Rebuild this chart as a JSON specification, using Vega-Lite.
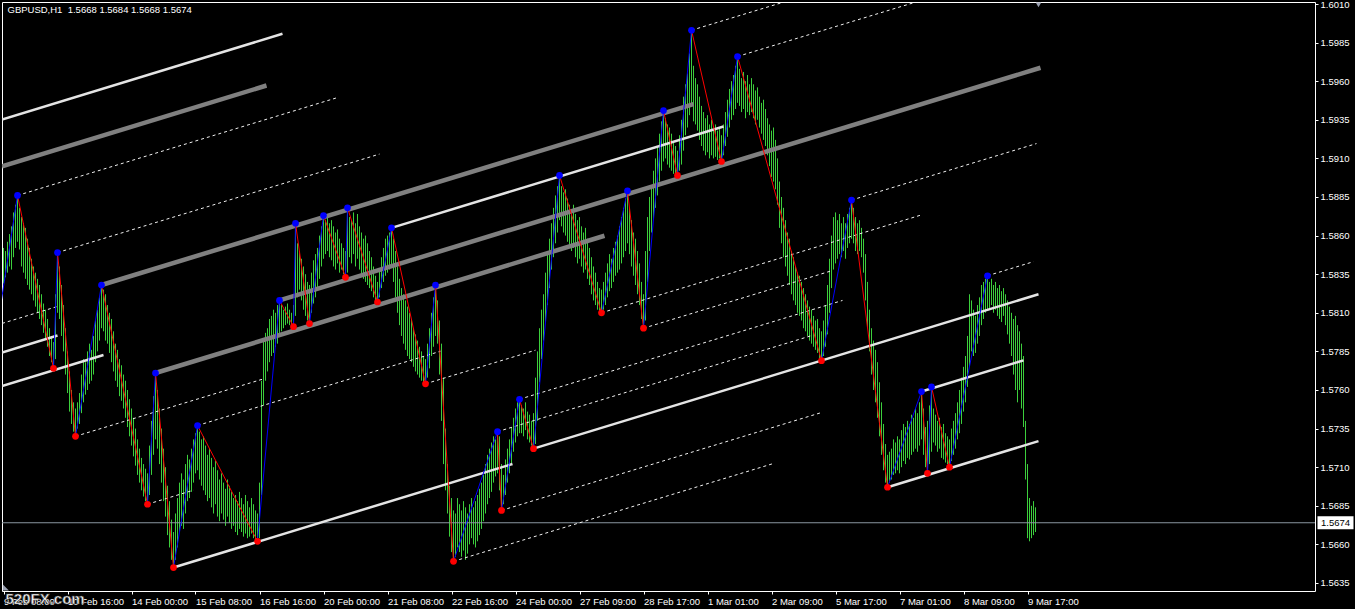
{
  "$schema": "https://vega.github.io/schema/vega-lite/v6.json",
  "width": 1313,
  "height": 589,
  "autosize": "none",
  "padding": {"left": 2, "top": 2, "right": 40, "bottom": 18},
  "background": "#000000",
  "config": {
    "view": {"stroke": "#ffffff", "strokeWidth": 1, "fill": "#000000"},
    "axis": {"domain": false, "grid": false, "labelColor": "#ffffff", "tickColor": "#ffffff", "labelFont": "Liberation Sans", "labelFontSize": 9.5, "tickSize": 3, "labelOverlap": false},
    "text": {"font": "Liberation Sans"}
  },
  "datasets": {
    "bars": [
      {"i":0,"h":1.5852,"l":1.5829},{"i":1,"h":1.5850,"l":1.5833},{"i":2,"h":1.5856,"l":1.5836},{"i":3,"h":1.5861,"l":1.5840},{"i":4,"h":1.5866,"l":1.5838},{"i":5,"h":1.5875,"l":1.5846},{"i":6,"h":1.5880,"l":1.5852},{"i":7,"h":1.5886,"l":1.5856},{"i":8,"h":1.5878,"l":1.5851},{"i":9,"h":1.5872,"l":1.5840},
      {"i":10,"h":1.5868,"l":1.5836},{"i":11,"h":1.5865,"l":1.5832},{"i":12,"h":1.5858,"l":1.5828},{"i":13,"h":1.5852,"l":1.5825},{"i":14,"h":1.5845,"l":1.5822},{"i":15,"h":1.5840,"l":1.5818},{"i":16,"h":1.5836,"l":1.5814},{"i":17,"h":1.5832,"l":1.5810},{"i":18,"h":1.5828,"l":1.5806},{"i":19,"h":1.5822,"l":1.5802},
      {"i":20,"h":1.5816,"l":1.5797},{"i":21,"h":1.5812,"l":1.5793},{"i":22,"h":1.5806,"l":1.5788},{"i":23,"h":1.5800,"l":1.5782},{"i":24,"h":1.5795,"l":1.5778},{"i":25,"h":1.5791,"l":1.5774},{"i":26,"h":1.5822,"l":1.5780},{"i":27,"h":1.5849,"l":1.5810},{"i":28,"h":1.5840,"l":1.5806},{"i":29,"h":1.5828,"l":1.5795},
      {"i":30,"h":1.5815,"l":1.5785},{"i":31,"h":1.5800,"l":1.5770},{"i":32,"h":1.5785,"l":1.5758},{"i":33,"h":1.5772,"l":1.5746},{"i":34,"h":1.5760,"l":1.5738},{"i":35,"h":1.5752,"l":1.5733},{"i":36,"h":1.5748,"l":1.5730},{"i":37,"h":1.5752,"l":1.5735},{"i":38,"h":1.5758,"l":1.5738},{"i":39,"h":1.5770,"l":1.5745},
      {"i":40,"h":1.5780,"l":1.5752},{"i":41,"h":1.5778,"l":1.5757},{"i":42,"h":1.5785,"l":1.5760},{"i":43,"h":1.5790,"l":1.5764},{"i":44,"h":1.5786,"l":1.5766},{"i":45,"h":1.5795,"l":1.5770},{"i":46,"h":1.5805,"l":1.5778},{"i":47,"h":1.5812,"l":1.5785},{"i":48,"h":1.5820,"l":1.5792},{"i":49,"h":1.5828,"l":1.5800},
      {"i":50,"h":1.5825,"l":1.5798},{"i":51,"h":1.5822,"l":1.5792},{"i":52,"h":1.5815,"l":1.5790},{"i":53,"h":1.5810,"l":1.5784},{"i":54,"h":1.5806,"l":1.5778},{"i":55,"h":1.5798,"l":1.5772},{"i":56,"h":1.5790,"l":1.5766},{"i":57,"h":1.5786,"l":1.5762},{"i":58,"h":1.5780,"l":1.5756},{"i":59,"h":1.5776,"l":1.5753},
      {"i":60,"h":1.5770,"l":1.5748},{"i":61,"h":1.5766,"l":1.5742},{"i":62,"h":1.5760,"l":1.5736},{"i":63,"h":1.5754,"l":1.5730},{"i":64,"h":1.5748,"l":1.5724},{"i":65,"h":1.5742,"l":1.5717},{"i":66,"h":1.5735,"l":1.5711},{"i":67,"h":1.5728,"l":1.5705},{"i":68,"h":1.5722,"l":1.5700},{"i":69,"h":1.5716,"l":1.5695},
      {"i":70,"h":1.5712,"l":1.5691},{"i":71,"h":1.5709,"l":1.5688},{"i":72,"h":1.5706,"l":1.5686},{"i":73,"h":1.5724,"l":1.5692},{"i":74,"h":1.5740,"l":1.5705},{"i":75,"h":1.5756,"l":1.5718},{"i":76,"h":1.5771,"l":1.5728},{"i":77,"h":1.5760,"l":1.5722},{"i":78,"h":1.5748,"l":1.5712},{"i":79,"h":1.5735,"l":1.5700},
      {"i":80,"h":1.5722,"l":1.5688},{"i":81,"h":1.5710,"l":1.5678},{"i":82,"h":1.5698,"l":1.5666},{"i":83,"h":1.5688,"l":1.5658},{"i":84,"h":1.5676,"l":1.5650},{"i":85,"h":1.5668,"l":1.5645},{"i":86,"h":1.5680,"l":1.5650},{"i":87,"h":1.5690,"l":1.5658},{"i":88,"h":1.5700,"l":1.5668},{"i":89,"h":1.5706,"l":1.5672},
      {"i":90,"h":1.5702,"l":1.5670},{"i":91,"h":1.5712,"l":1.5680},{"i":92,"h":1.5718,"l":1.5688},{"i":93,"h":1.5715,"l":1.5690},{"i":94,"h":1.5722,"l":1.5694},{"i":95,"h":1.5728,"l":1.5700},{"i":96,"h":1.5732,"l":1.5706},{"i":97,"h":1.5737,"l":1.5708},{"i":98,"h":1.5733,"l":1.5702},{"i":99,"h":1.5728,"l":1.5698},
      {"i":100,"h":1.5730,"l":1.5695},{"i":101,"h":1.5724,"l":1.5692},{"i":102,"h":1.5718,"l":1.5688},{"i":103,"h":1.5722,"l":1.5690},{"i":104,"h":1.5716,"l":1.5684},{"i":105,"h":1.5710,"l":1.5680},{"i":106,"h":1.5714,"l":1.5686},{"i":107,"h":1.5708,"l":1.5678},{"i":108,"h":1.5702,"l":1.5675},{"i":109,"h":1.5706,"l":1.5680},
      {"i":110,"h":1.5700,"l":1.5676},{"i":111,"h":1.5696,"l":1.5672},{"i":112,"h":1.5702,"l":1.5678},{"i":113,"h":1.5698,"l":1.5674},{"i":114,"h":1.5694,"l":1.5670},{"i":115,"h":1.5690,"l":1.5672},{"i":116,"h":1.5692,"l":1.5668},{"i":117,"h":1.5688,"l":1.5666},{"i":118,"h":1.5694,"l":1.5670},{"i":119,"h":1.5690,"l":1.5668},
      {"i":120,"h":1.5686,"l":1.5665},{"i":121,"h":1.5692,"l":1.5667},{"i":122,"h":1.5688,"l":1.5664},{"i":123,"h":1.5684,"l":1.5665},{"i":124,"h":1.5690,"l":1.5667},{"i":125,"h":1.5686,"l":1.5664},{"i":126,"h":1.5682,"l":1.5663},{"i":127,"h":1.5680,"l":1.5662},{"i":128,"h":1.5700,"l":1.5664},{"i":129,"h":1.5766,"l":1.5692},
      {"i":130,"h":1.5792,"l":1.5750},{"i":131,"h":1.5797,"l":1.5766},{"i":132,"h":1.5800,"l":1.5772},{"i":133,"h":1.5806,"l":1.5778},{"i":134,"h":1.5808,"l":1.5782},{"i":135,"h":1.5812,"l":1.5784},{"i":136,"h":1.5810,"l":1.5788},{"i":137,"h":1.5815,"l":1.5790},{"i":138,"h":1.5818,"l":1.5795},{"i":139,"h":1.5815,"l":1.5798},
      {"i":140,"h":1.5812,"l":1.5800},{"i":141,"h":1.5814,"l":1.5802},{"i":142,"h":1.5816,"l":1.5803},{"i":143,"h":1.5812,"l":1.5802},{"i":144,"h":1.5810,"l":1.5802},{"i":145,"h":1.5815,"l":1.5801},{"i":146,"h":1.5868,"l":1.5808},{"i":147,"h":1.5855,"l":1.5820},{"i":148,"h":1.5850,"l":1.5825},{"i":149,"h":1.5845,"l":1.5818},
      {"i":150,"h":1.5840,"l":1.5812},{"i":151,"h":1.5835,"l":1.5808},{"i":152,"h":1.5830,"l":1.5805},{"i":153,"h":1.5828,"l":1.5803},{"i":154,"h":1.5836,"l":1.5810},{"i":155,"h":1.5844,"l":1.5816},{"i":156,"h":1.5848,"l":1.5820},{"i":157,"h":1.5852,"l":1.5826},{"i":158,"h":1.5860,"l":1.5832},{"i":159,"h":1.5866,"l":1.5840},
      {"i":160,"h":1.5873,"l":1.5845},{"i":161,"h":1.5870,"l":1.5848},{"i":162,"h":1.5872,"l":1.5850},{"i":163,"h":1.5868,"l":1.5846},{"i":164,"h":1.5870,"l":1.5844},{"i":165,"h":1.5866,"l":1.5840},{"i":166,"h":1.5862,"l":1.5838},{"i":167,"h":1.5864,"l":1.5842},{"i":168,"h":1.5858,"l":1.5836},{"i":169,"h":1.5855,"l":1.5838},
      {"i":170,"h":1.5852,"l":1.5835},{"i":171,"h":1.5850,"l":1.5833},{"i":172,"h":1.5878,"l":1.5836},{"i":173,"h":1.5872,"l":1.5846},{"i":174,"h":1.5870,"l":1.5842},{"i":175,"h":1.5875,"l":1.5848},{"i":176,"h":1.5868,"l":1.5840},{"i":177,"h":1.5874,"l":1.5845},{"i":178,"h":1.5866,"l":1.5838},{"i":179,"h":1.5862,"l":1.5835},
      {"i":180,"h":1.5858,"l":1.5832},{"i":181,"h":1.5860,"l":1.5830},{"i":182,"h":1.5855,"l":1.5828},{"i":183,"h":1.5850,"l":1.5826},{"i":184,"h":1.5846,"l":1.5824},{"i":185,"h":1.5840,"l":1.5820},{"i":186,"h":1.5834,"l":1.5818},{"i":187,"h":1.5830,"l":1.5817},{"i":188,"h":1.5838,"l":1.5820},{"i":189,"h":1.5846,"l":1.5826},
      {"i":190,"h":1.5852,"l":1.5830},{"i":191,"h":1.5858,"l":1.5834},{"i":192,"h":1.5860,"l":1.5836},{"i":193,"h":1.5862,"l":1.5838},{"i":194,"h":1.5865,"l":1.5840},{"i":195,"h":1.5858,"l":1.5830},{"i":196,"h":1.5850,"l":1.5820},{"i":197,"h":1.5840,"l":1.5810},{"i":198,"h":1.5832,"l":1.5802},{"i":199,"h":1.5826,"l":1.5795},
      {"i":200,"h":1.5822,"l":1.5790},{"i":201,"h":1.5818,"l":1.5786},{"i":202,"h":1.5814,"l":1.5782},{"i":203,"h":1.5810,"l":1.5780},{"i":204,"h":1.5806,"l":1.5778},{"i":205,"h":1.5800,"l":1.5775},{"i":206,"h":1.5796,"l":1.5772},{"i":207,"h":1.5792,"l":1.5770},{"i":208,"h":1.5788,"l":1.5768},{"i":209,"h":1.5785,"l":1.5766},
      {"i":210,"h":1.5782,"l":1.5765},{"i":211,"h":1.5780,"l":1.5764},{"i":212,"h":1.5790,"l":1.5768},{"i":213,"h":1.5800,"l":1.5774},{"i":214,"h":1.5810,"l":1.5782},{"i":215,"h":1.5820,"l":1.5788},{"i":216,"h":1.5828,"l":1.5795},{"i":217,"h":1.5818,"l":1.5790},{"i":218,"h":1.5805,"l":1.5770},{"i":219,"h":1.5790,"l":1.5740},
      {"i":220,"h":1.5768,"l":1.5712},{"i":221,"h":1.5735,"l":1.5695},{"i":222,"h":1.5712,"l":1.5680},{"i":223,"h":1.5698,"l":1.5665},{"i":224,"h":1.5690,"l":1.5655},{"i":225,"h":1.5682,"l":1.5649},{"i":226,"h":1.5680,"l":1.5652},{"i":227,"h":1.5690,"l":1.5658},{"i":228,"h":1.5686,"l":1.5655},{"i":229,"h":1.5682,"l":1.5652},
      {"i":230,"h":1.5688,"l":1.5656},{"i":231,"h":1.5684,"l":1.5650},{"i":232,"h":1.5680,"l":1.5654},{"i":233,"h":1.5686,"l":1.5660},{"i":234,"h":1.5690,"l":1.5664},{"i":235,"h":1.5684,"l":1.5660},{"i":236,"h":1.5688,"l":1.5658},{"i":237,"h":1.5692,"l":1.5662},{"i":238,"h":1.5696,"l":1.5666},{"i":239,"h":1.5700,"l":1.5670},
      {"i":240,"h":1.5705,"l":1.5675},{"i":241,"h":1.5712,"l":1.5680},{"i":242,"h":1.5718,"l":1.5686},{"i":243,"h":1.5722,"l":1.5690},{"i":244,"h":1.5726,"l":1.5694},{"i":245,"h":1.5730,"l":1.5700},{"i":246,"h":1.5728,"l":1.5704},{"i":247,"h":1.5733,"l":1.5706},{"i":248,"h":1.5730,"l":1.5695},{"i":249,"h":1.5712,"l":1.5682},
      {"i":250,"h":1.5705,"l":1.5686},{"i":251,"h":1.5715,"l":1.5692},{"i":252,"h":1.5722,"l":1.5700},{"i":253,"h":1.5728,"l":1.5706},{"i":254,"h":1.5736,"l":1.5712},{"i":255,"h":1.5742,"l":1.5720},{"i":256,"h":1.5748,"l":1.5726},{"i":257,"h":1.5752,"l":1.5730},{"i":258,"h":1.5754,"l":1.5732},{"i":259,"h":1.5750,"l":1.5732},
      {"i":260,"h":1.5748,"l":1.5730},{"i":261,"h":1.5752,"l":1.5734},{"i":262,"h":1.5746,"l":1.5728},{"i":263,"h":1.5744,"l":1.5726},{"i":264,"h":1.5740,"l":1.5724},{"i":265,"h":1.5745,"l":1.5722},{"i":266,"h":1.5768,"l":1.5725},{"i":267,"h":1.5785,"l":1.5740},{"i":268,"h":1.5800,"l":1.5765},{"i":269,"h":1.5812,"l":1.5780},
      {"i":270,"h":1.5822,"l":1.5792},{"i":271,"h":1.5836,"l":1.5804},{"i":272,"h":1.5848,"l":1.5815},{"i":273,"h":1.5858,"l":1.5826},{"i":274,"h":1.5868,"l":1.5838},{"i":275,"h":1.5878,"l":1.5846},{"i":276,"h":1.5886,"l":1.5855},{"i":277,"h":1.5892,"l":1.5862},{"i":278,"h":1.5899,"l":1.5870},{"i":279,"h":1.5892,"l":1.5866},
      {"i":280,"h":1.5888,"l":1.5862},{"i":281,"h":1.5890,"l":1.5860},{"i":282,"h":1.5884,"l":1.5856},{"i":283,"h":1.5880,"l":1.5852},{"i":284,"h":1.5876,"l":1.5850},{"i":285,"h":1.5880,"l":1.5852},{"i":286,"h":1.5874,"l":1.5846},{"i":287,"h":1.5870,"l":1.5842},{"i":288,"h":1.5872,"l":1.5845},{"i":289,"h":1.5866,"l":1.5840},
      {"i":290,"h":1.5862,"l":1.5836},{"i":291,"h":1.5865,"l":1.5838},{"i":292,"h":1.5858,"l":1.5832},{"i":293,"h":1.5852,"l":1.5828},{"i":294,"h":1.5846,"l":1.5822},{"i":295,"h":1.5840,"l":1.5818},{"i":296,"h":1.5836,"l":1.5815},{"i":297,"h":1.5830,"l":1.5812},{"i":298,"h":1.5826,"l":1.5811},{"i":299,"h":1.5825,"l":1.5810},
      {"i":300,"h":1.5830,"l":1.5812},{"i":301,"h":1.5836,"l":1.5815},{"i":302,"h":1.5842,"l":1.5820},{"i":303,"h":1.5848,"l":1.5824},{"i":304,"h":1.5845,"l":1.5826},{"i":305,"h":1.5852,"l":1.5830},{"i":306,"h":1.5856,"l":1.5834},{"i":307,"h":1.5860,"l":1.5836},{"i":308,"h":1.5866,"l":1.5838},{"i":309,"h":1.5872,"l":1.5842},
      {"i":310,"h":1.5878,"l":1.5846},{"i":311,"h":1.5884,"l":1.5850},{"i":312,"h":1.5889,"l":1.5855},{"i":313,"h":1.5878,"l":1.5848},{"i":314,"h":1.5870,"l":1.5840},{"i":315,"h":1.5862,"l":1.5834},{"i":316,"h":1.5858,"l":1.5828},{"i":317,"h":1.5850,"l":1.5822},{"i":318,"h":1.5842,"l":1.5815},{"i":319,"h":1.5830,"l":1.5806},
      {"i":320,"h":1.5822,"l":1.5800},{"i":321,"h":1.5850,"l":1.5805},{"i":322,"h":1.5872,"l":1.5830},{"i":323,"h":1.5885,"l":1.5850},{"i":324,"h":1.5892,"l":1.5862},{"i":325,"h":1.5902,"l":1.5870},{"i":326,"h":1.5910,"l":1.5878},{"i":327,"h":1.5918,"l":1.5886},{"i":328,"h":1.5926,"l":1.5895},{"i":329,"h":1.5934,"l":1.5902},
      {"i":330,"h":1.5941,"l":1.5908},{"i":331,"h":1.5936,"l":1.5910},{"i":332,"h":1.5932,"l":1.5906},{"i":333,"h":1.5930,"l":1.5904},{"i":334,"h":1.5926,"l":1.5902},{"i":335,"h":1.5920,"l":1.5900},{"i":336,"h":1.5918,"l":1.5899},{"i":337,"h":1.5915,"l":1.5899},{"i":338,"h":1.5925,"l":1.5902},{"i":339,"h":1.5935,"l":1.5906},
      {"i":340,"h":1.5950,"l":1.5915},{"i":341,"h":1.5958,"l":1.5925},{"i":342,"h":1.5965,"l":1.5930},{"i":343,"h":1.5978,"l":1.5938},{"i":344,"h":1.5993,"l":1.5944},{"i":345,"h":1.5970,"l":1.5934},{"i":346,"h":1.5962,"l":1.5932},{"i":347,"h":1.5958,"l":1.5928},{"i":348,"h":1.5950,"l":1.5922},{"i":349,"h":1.5944,"l":1.5918},
      {"i":350,"h":1.5940,"l":1.5915},{"i":351,"h":1.5936,"l":1.5912},{"i":352,"h":1.5938,"l":1.5914},{"i":353,"h":1.5932,"l":1.5910},{"i":354,"h":1.5935,"l":1.5912},{"i":355,"h":1.5930,"l":1.5910},{"i":356,"h":1.5932,"l":1.5911},{"i":357,"h":1.5928,"l":1.5909},{"i":358,"h":1.5930,"l":1.5910},{"i":359,"h":1.5925,"l":1.5908},
      {"i":360,"h":1.5932,"l":1.5912},{"i":361,"h":1.5940,"l":1.5918},{"i":362,"h":1.5948,"l":1.5924},{"i":363,"h":1.5955,"l":1.5930},{"i":364,"h":1.5960,"l":1.5935},{"i":365,"h":1.5964,"l":1.5938},{"i":366,"h":1.5970,"l":1.5942},{"i":367,"h":1.5976,"l":1.5946},{"i":368,"h":1.5968,"l":1.5944},{"i":369,"h":1.5962,"l":1.5940},
      {"i":370,"h":1.5966,"l":1.5942},{"i":371,"h":1.5960,"l":1.5936},{"i":372,"h":1.5964,"l":1.5940},{"i":373,"h":1.5958,"l":1.5938},{"i":374,"h":1.5962,"l":1.5940},{"i":375,"h":1.5958,"l":1.5936},{"i":376,"h":1.5954,"l":1.5932},{"i":377,"h":1.5956,"l":1.5935},{"i":378,"h":1.5950,"l":1.5930},{"i":379,"h":1.5946,"l":1.5926},
      {"i":380,"h":1.5948,"l":1.5922},{"i":381,"h":1.5942,"l":1.5918},{"i":382,"h":1.5936,"l":1.5912},{"i":383,"h":1.5932,"l":1.5905},{"i":384,"h":1.5928,"l":1.5898},{"i":385,"h":1.5930,"l":1.5895},{"i":386,"h":1.5922,"l":1.5890},{"i":387,"h":1.5910,"l":1.5880},{"i":388,"h":1.5895,"l":1.5865},{"i":389,"h":1.5885,"l":1.5855},
      {"i":390,"h":1.5878,"l":1.5846},{"i":391,"h":1.5870,"l":1.5840},{"i":392,"h":1.5862,"l":1.5834},{"i":393,"h":1.5858,"l":1.5828},{"i":394,"h":1.5850,"l":1.5822},{"i":395,"h":1.5846,"l":1.5818},{"i":396,"h":1.5840,"l":1.5815},{"i":397,"h":1.5836,"l":1.5810},{"i":398,"h":1.5834,"l":1.5808},{"i":399,"h":1.5830,"l":1.5805},
      {"i":400,"h":1.5826,"l":1.5800},{"i":401,"h":1.5822,"l":1.5798},{"i":402,"h":1.5818,"l":1.5795},{"i":403,"h":1.5814,"l":1.5792},{"i":404,"h":1.5812,"l":1.5790},{"i":405,"h":1.5808,"l":1.5788},{"i":406,"h":1.5805,"l":1.5786},{"i":407,"h":1.5806,"l":1.5784},{"i":408,"h":1.5800,"l":1.5780},{"i":409,"h":1.5798,"l":1.5779},
      {"i":410,"h":1.5805,"l":1.5782},{"i":411,"h":1.5815,"l":1.5788},{"i":412,"h":1.5828,"l":1.5796},{"i":413,"h":1.5845,"l":1.5810},{"i":414,"h":1.5860,"l":1.5826},{"i":415,"h":1.5872,"l":1.5838},{"i":416,"h":1.5875,"l":1.5842},{"i":417,"h":1.5870,"l":1.5845},{"i":418,"h":1.5874,"l":1.5848},{"i":419,"h":1.5868,"l":1.5846},
      {"i":420,"h":1.5872,"l":1.5850},{"i":421,"h":1.5868,"l":1.5845},{"i":422,"h":1.5874,"l":1.5852},{"i":423,"h":1.5878,"l":1.5855},{"i":424,"h":1.5883,"l":1.5858},{"i":425,"h":1.5878,"l":1.5855},{"i":426,"h":1.5872,"l":1.5850},{"i":427,"h":1.5868,"l":1.5848},{"i":428,"h":1.5870,"l":1.5850},{"i":429,"h":1.5865,"l":1.5846},
      {"i":430,"h":1.5858,"l":1.5836},{"i":431,"h":1.5848,"l":1.5818},{"i":432,"h":1.5830,"l":1.5800},{"i":433,"h":1.5812,"l":1.5785},{"i":434,"h":1.5800,"l":1.5770},{"i":435,"h":1.5792,"l":1.5760},{"i":436,"h":1.5786,"l":1.5752},{"i":437,"h":1.5778,"l":1.5742},{"i":438,"h":1.5765,"l":1.5730},{"i":439,"h":1.5752,"l":1.5718},
      {"i":440,"h":1.5738,"l":1.5708},{"i":441,"h":1.5725,"l":1.5700},{"i":442,"h":1.5718,"l":1.5697},{"i":443,"h":1.5720,"l":1.5700},{"i":444,"h":1.5722,"l":1.5702},{"i":445,"h":1.5728,"l":1.5705},{"i":446,"h":1.5726,"l":1.5706},{"i":447,"h":1.5730,"l":1.5708},{"i":448,"h":1.5728,"l":1.5706},{"i":449,"h":1.5734,"l":1.5710},
      {"i":450,"h":1.5738,"l":1.5714},{"i":451,"h":1.5736,"l":1.5712},{"i":452,"h":1.5740,"l":1.5716},{"i":453,"h":1.5738,"l":1.5715},{"i":454,"h":1.5744,"l":1.5718},{"i":455,"h":1.5742,"l":1.5720},{"i":456,"h":1.5748,"l":1.5722},{"i":457,"h":1.5745,"l":1.5720},{"i":458,"h":1.5752,"l":1.5724},{"i":459,"h":1.5759,"l":1.5728},
      {"i":460,"h":1.5748,"l":1.5718},{"i":461,"h":1.5736,"l":1.5710},{"i":462,"h":1.5740,"l":1.5706},{"i":463,"h":1.5750,"l":1.5712},{"i":464,"h":1.5762,"l":1.5720},{"i":465,"h":1.5748,"l":1.5726},{"i":466,"h":1.5744,"l":1.5724},{"i":467,"h":1.5740,"l":1.5720},{"i":468,"h":1.5742,"l":1.5722},{"i":469,"h":1.5736,"l":1.5716},
      {"i":470,"h":1.5738,"l":1.5715},{"i":471,"h":1.5732,"l":1.5713},{"i":472,"h":1.5730,"l":1.5712},{"i":473,"h":1.5728,"l":1.5710},{"i":474,"h":1.5735,"l":1.5714},{"i":475,"h":1.5740,"l":1.5718},{"i":476,"h":1.5745,"l":1.5722},{"i":477,"h":1.5752,"l":1.5728},{"i":478,"h":1.5760,"l":1.5732},{"i":479,"h":1.5768,"l":1.5738},
      {"i":480,"h":1.5775,"l":1.5746},{"i":481,"h":1.5782,"l":1.5752},{"i":482,"h":1.5795,"l":1.5762},{"i":483,"h":1.5822,"l":1.5775},{"i":484,"h":1.5818,"l":1.5785},{"i":485,"h":1.5812,"l":1.5782},{"i":486,"h":1.5808,"l":1.5784},{"i":487,"h":1.5815,"l":1.5790},{"i":488,"h":1.5820,"l":1.5795},{"i":489,"h":1.5828,"l":1.5802},
      {"i":490,"h":1.5830,"l":1.5806},{"i":491,"h":1.5832,"l":1.5810},{"i":492,"h":1.5834,"l":1.5812},{"i":493,"h":1.5830,"l":1.5812},{"i":494,"h":1.5832,"l":1.5815},{"i":495,"h":1.5828,"l":1.5810},{"i":496,"h":1.5830,"l":1.5812},{"i":497,"h":1.5826,"l":1.5808},{"i":498,"h":1.5828,"l":1.5806},{"i":499,"h":1.5824,"l":1.5804},
      {"i":500,"h":1.5826,"l":1.5808},{"i":501,"h":1.5822,"l":1.5802},{"i":502,"h":1.5818,"l":1.5796},{"i":503,"h":1.5814,"l":1.5790},{"i":504,"h":1.5810,"l":1.5782},{"i":505,"h":1.5806,"l":1.5770},{"i":506,"h":1.5808,"l":1.5760},{"i":507,"h":1.5802,"l":1.5752},{"i":508,"h":1.5798,"l":1.5760},{"i":509,"h":1.5790,"l":1.5748},
      {"i":510,"h":1.5782,"l":1.5736},{"i":511,"h":1.5740,"l":1.5702},{"i":512,"h":1.5712,"l":1.5664},{"i":513,"h":1.5690,"l":1.5662},{"i":514,"h":1.5685,"l":1.5664},{"i":515,"h":1.5688,"l":1.5666},{"i":516,"h":1.5684,"l":1.5668}
    ],
    "pivots": [
      {"i":-2,"p":1.5810,"t":"L"},{"i":7,"p":1.5886,"t":"H"},{"i":25,"p":1.5774,"t":"L"},{"i":27,"p":1.5849,"t":"H"},{"i":36,"p":1.5730,"t":"L"},{"i":49,"p":1.5828,"t":"H"},{"i":72,"p":1.5686,"t":"L"},{"i":76,"p":1.5771,"t":"H"},{"i":85,"p":1.5645,"t":"L"},{"i":97,"p":1.5737,"t":"H"},
      {"i":127,"p":1.5662,"t":"L"},{"i":138,"p":1.5818,"t":"H"},{"i":145,"p":1.5801,"t":"L"},{"i":146,"p":1.5868,"t":"H"},{"i":153,"p":1.5803,"t":"L"},{"i":160,"p":1.5873,"t":"H"},{"i":171,"p":1.5833,"t":"L"},{"i":172,"p":1.5878,"t":"H"},{"i":187,"p":1.5817,"t":"L"},{"i":194,"p":1.5865,"t":"H"},
      {"i":211,"p":1.5764,"t":"L"},{"i":216,"p":1.5828,"t":"H"},{"i":225,"p":1.5649,"t":"L"},{"i":247,"p":1.5733,"t":"H"},{"i":249,"p":1.5682,"t":"L"},{"i":258,"p":1.5754,"t":"H"},{"i":265,"p":1.5722,"t":"L"},{"i":278,"p":1.5899,"t":"H"},{"i":299,"p":1.5810,"t":"L"},{"i":312,"p":1.5889,"t":"H"},
      {"i":320,"p":1.5800,"t":"L"},{"i":330,"p":1.5941,"t":"H"},{"i":337,"p":1.5899,"t":"L"},{"i":344,"p":1.5993,"t":"H"},{"i":359,"p":1.5908,"t":"L"},{"i":367,"p":1.5976,"t":"H"},{"i":409,"p":1.5779,"t":"L"},{"i":424,"p":1.5883,"t":"H"},{"i":442,"p":1.5697,"t":"L"},{"i":459,"p":1.5759,"t":"H"},
      {"i":462,"p":1.5706,"t":"L"},{"i":464,"p":1.5762,"t":"H"},{"i":473,"p":1.5710,"t":"L"},{"i":492,"p":1.5834,"t":"H"}
    ],
    "channels": [
      {"line":"G1","kind":"thick","i":-0.75,"p":1.59048},{"line":"G1","kind":"thick","i":131.5,"p":1.59572},
      {"line":"G2a","kind":"thick","i":49,"p":1.5828},{"line":"G2a","kind":"thick","i":345,"p":1.59452},
      {"line":"G2b","kind":"thick","i":138,"p":1.5818},{"line":"G2b","kind":"thick","i":518.5,"p":1.59687},
      {"line":"G3","kind":"thick","i":76,"p":1.5771},{"line":"G3","kind":"thick","i":300.5,"p":1.58599},
      {"line":"W1","kind":"solid","i":-0.75,"p":1.59352},{"line":"W1","kind":"solid","i":139.5,"p":1.59907},
      {"line":"W2","kind":"solid","i":-0.75,"p":1.57843},{"line":"W2","kind":"solid","i":27,"p":1.57953},
      {"line":"W3","kind":"solid","i":-0.75,"p":1.57626},{"line":"W3","kind":"solid","i":50,"p":1.57827},
      {"line":"W4","kind":"solid","i":85,"p":1.5645},{"line":"W4","kind":"solid","i":254.5,"p":1.57121},
      {"line":"W5","kind":"solid","i":265,"p":1.5722},{"line":"W5","kind":"solid","i":517.5,"p":1.5822},
      {"line":"W6","kind":"solid","i":194,"p":1.5865},{"line":"W6","kind":"solid","i":360,"p":1.59307},
      {"line":"W7","kind":"solid","i":442,"p":1.5697},{"line":"W7","kind":"solid","i":517.5,"p":1.57269},
      {"line":"W8","kind":"solid","i":459,"p":1.5759},{"line":"W8","kind":"solid","i":510,"p":1.57792},
      {"line":"D1","kind":"dash","i":7,"p":1.5886},{"line":"D1","kind":"dash","i":167,"p":1.59494},
      {"line":"D2","kind":"dash","i":27,"p":1.5849},{"line":"D2","kind":"dash","i":188,"p":1.59128},
      {"line":"D3","kind":"dash","i":-0.75,"p":1.58031},{"line":"D3","kind":"dash","i":27,"p":1.58141},
      {"line":"D4","kind":"dash","i":36,"p":1.5730},{"line":"D4","kind":"dash","i":129.5,"p":1.5767},
      {"line":"D5","kind":"dash","i":72,"p":1.5686},{"line":"D5","kind":"dash","i":95,"p":1.56951},
      {"line":"D6","kind":"dash","i":97,"p":1.5737},{"line":"D6","kind":"dash","i":218.5,"p":1.57851},
      {"line":"D7","kind":"dash","i":211,"p":1.5764},{"line":"D7","kind":"dash","i":266,"p":1.57858},
      {"line":"D8","kind":"dash","i":225,"p":1.5649},{"line":"D8","kind":"dash","i":385,"p":1.57124},
      {"line":"D9","kind":"dash","i":247,"p":1.5733},{"line":"D9","kind":"dash","i":404.5,"p":1.57954},
      {"line":"D10","kind":"dash","i":249,"p":1.5682},{"line":"D10","kind":"dash","i":408.5,"p":1.57452},
      {"line":"D11","kind":"dash","i":258,"p":1.5754},{"line":"D11","kind":"dash","i":419.5,"p":1.5818},
      {"line":"D12","kind":"dash","i":299,"p":1.5810},{"line":"D12","kind":"dash","i":459,"p":1.58734},
      {"line":"D13","kind":"dash","i":320,"p":1.5800},{"line":"D13","kind":"dash","i":413.5,"p":1.5837},
      {"line":"D14","kind":"dash","i":344,"p":1.5993},{"line":"D14","kind":"dash","i":390,"p":1.60112},
      {"line":"D15","kind":"dash","i":367,"p":1.5976},{"line":"D15","kind":"dash","i":456,"p":1.60112},
      {"line":"D16","kind":"dash","i":424,"p":1.5883},{"line":"D16","kind":"dash","i":516.5,"p":1.59196},
      {"line":"D17","kind":"dash","i":492,"p":1.5834},{"line":"D17","kind":"dash","i":515,"p":1.58431}
    ]
  },
  "layer": [
    {
      "data": {"name": "bars"},
      "mark": {"type": "rule", "color": "#3ccf3c", "strokeWidth": 1},
      "encoding": {
        "x": {"field": "i", "type": "quantitative", "scale": {"domain": [-0.75, 655.75], "nice": false, "zero": false},
          "axis": {"orient": "bottom", "title": null, "values": [0,32,64,96,128,160,192,224,256,288,320,352,384,416,448,480,512], "tickCount": 60, "labelAlign": "left", "labelBaseline": "top", "labelPadding": 2, "labelOverlap": false, "labelFlush": false, "labelBound": false, "labelColor": "#ffffff", "tickColor": "#ffffff", "tickSize": 3, "domain": false, "grid": false, "labelFont": "Liberation Sans", "labelFontSize": 9.5,
            "labelExpr": "['9 Feb 08:00','10 Feb 16:00','14 Feb 00:00','15 Feb 08:00','16 Feb 16:00','20 Feb 00:00','21 Feb 08:00','22 Feb 16:00','24 Feb 00:00','27 Feb 09:00','28 Feb 17:00','1 Mar 01:00','2 Mar 09:00','5 Mar 17:00','7 Mar 01:00','8 Mar 09:00','9 Mar 17:00'][round(datum.value/32)]"}},
        "y": {"field": "l", "type": "quantitative", "scale": {"domain": [1.56298, 1.60113], "nice": false, "zero": false},
          "axis": {"orient": "right", "title": null, "values": [1.5635,1.566,1.5685,1.571,1.5735,1.576,1.5785,1.581,1.5835,1.586,1.5885,1.591,1.5935,1.596,1.5985,1.601], "tickCount": 40, "format": ".4f", "labelPadding": 2, "labelOverlap": false, "labelFlush": false, "labelBound": false, "labelColor": "#ffffff", "tickColor": "#ffffff", "tickSize": 3, "domain": false, "grid": false, "labelFont": "Liberation Sans", "labelFontSize": 9.5}},
        "y2": {"field": "h"}
      }
    },
    {
      "data": {"values": [{}]},
      "mark": {"type": "rule", "color": "#8a96a0", "strokeWidth": 1},
      "encoding": {"y": {"datum": 1.5674, "type": "quantitative", "scale": {"domain": [1.56298, 1.60113], "nice": false, "zero": false}}}
    },
    {
      "data": {"name": "channels"},
      "transform": [{"filter": "datum.kind === 'thick'"}],
      "mark": {"type": "line", "color": "#808080", "strokeWidth": 4.5, "clip": true},
      "encoding": {
        "x": {"field": "i", "type": "quantitative", "scale": {"domain": [-0.75, 655.75], "nice": false, "zero": false}},
        "y": {"field": "p", "type": "quantitative", "scale": {"domain": [1.56298, 1.60113], "nice": false, "zero": false}},
        "detail": {"field": "line"}
      }
    },
    {
      "data": {"name": "channels"},
      "transform": [{"filter": "datum.kind === 'solid'"}],
      "mark": {"type": "line", "color": "#e4e4e4", "strokeWidth": 2.5, "clip": true},
      "encoding": {
        "x": {"field": "i", "type": "quantitative", "scale": {"domain": [-0.75, 655.75], "nice": false, "zero": false}},
        "y": {"field": "p", "type": "quantitative", "scale": {"domain": [1.56298, 1.60113], "nice": false, "zero": false}},
        "detail": {"field": "line"}
      }
    },
    {
      "data": {"name": "channels"},
      "transform": [{"filter": "datum.kind === 'dash'"}],
      "mark": {"type": "line", "color": "#f2f2f2", "strokeWidth": 1, "strokeDash": [3, 3], "clip": true},
      "encoding": {
        "x": {"field": "i", "type": "quantitative", "scale": {"domain": [-0.75, 655.75], "nice": false, "zero": false}},
        "y": {"field": "p", "type": "quantitative", "scale": {"domain": [1.56298, 1.60113], "nice": false, "zero": false}},
        "detail": {"field": "line"}
      }
    },
    {
      "data": {"name": "pivots"},
      "transform": [
        {"window": [{"op": "lead", "field": "i", "as": "i2"}, {"op": "lead", "field": "p", "as": "p2"}], "sort": [{"field": "i"}]},
        {"filter": "datum.i2 != null"}
      ],
      "mark": {"type": "rule", "strokeWidth": 1, "clip": true},
      "encoding": {
        "x": {"field": "i", "type": "quantitative", "scale": {"domain": [-0.75, 655.75], "nice": false, "zero": false}},
        "y": {"field": "p", "type": "quantitative", "scale": {"domain": [1.56298, 1.60113], "nice": false, "zero": false}},
        "x2": {"field": "i2"},
        "y2": {"field": "p2"},
        "stroke": {"field": "t", "type": "nominal", "scale": {"domain": ["H", "L"], "range": ["#ff0000", "#0000ff"]}, "legend": null}
      }
    },
    {
      "data": {"name": "pivots"},
      "transform": [{"filter": "datum.i >= 0"}],
      "mark": {"type": "point", "shape": "circle", "filled": true, "size": 45, "opacity": 1, "strokeWidth": 0},
      "encoding": {
        "x": {"field": "i", "type": "quantitative", "scale": {"domain": [-0.75, 655.75], "nice": false, "zero": false}},
        "y": {"field": "p", "type": "quantitative", "scale": {"domain": [1.56298, 1.60113], "nice": false, "zero": false}},
        "fill": {"field": "t", "type": "nominal", "scale": {"domain": ["H", "L"], "range": ["#0000ff", "#ff0000"]}, "legend": null}
      }
    },
    {
      "data": {"values": [{}]},
      "mark": {"type": "text", "text": "GBPUSD,H1\u00a0 1.5668 1.5684 1.5668 1.5674", "align": "left", "baseline": "middle", "color": "#ffffff", "font": "Liberation Sans", "fontSize": 9.5},
      "encoding": {
        "x": {"datum": 2, "type": "quantitative", "scale": {"domain": [-0.75, 655.75], "nice": false, "zero": false}},
        "y": {"datum": 1.60061, "type": "quantitative", "scale": {"domain": [1.56298, 1.60113], "nice": false, "zero": false}}
      }
    },
    {
      "data": {"values": [{}]},
      "mark": {"type": "point", "shape": "M-2.77,-1H2.77V1H-2.77Z", "size": 169, "filled": true, "color": "#ffffff", "opacity": 1, "strokeWidth": 0},
      "encoding": {
        "x": {"datum": 666, "type": "quantitative", "scale": {"domain": [-0.75, 655.75], "nice": false, "zero": false}},
        "y": {"datum": 1.5674, "type": "quantitative", "scale": {"domain": [1.56298, 1.60113], "nice": false, "zero": false}}
      }
    },
    {
      "data": {"values": [{}]},
      "mark": {"type": "text", "align": "center", "baseline": "middle", "color": "#000000", "font": "Liberation Sans", "fontSize": 9.5},
      "encoding": {
        "x": {"datum": 666, "type": "quantitative", "scale": {"domain": [-0.75, 655.75], "nice": false, "zero": false}},
        "y": {"datum": 1.5674, "type": "quantitative", "scale": {"domain": [1.56298, 1.60113], "nice": false, "zero": false}},
        "text": {"datum": 1.5674, "type": "quantitative", "format": ".4f"}
      }
    },
    {
      "data": {"values": [{}]},
      "mark": {"type": "point", "shape": "triangle-down", "size": 30, "filled": true, "color": "#9aa0b0", "opacity": 1, "strokeWidth": 0},
      "encoding": {
        "x": {"datum": 517.5, "type": "quantitative", "scale": {"domain": [-0.75, 655.75], "nice": false, "zero": false}},
        "y": {"datum": 1.60095, "type": "quantitative", "scale": {"domain": [1.56298, 1.60113], "nice": false, "zero": false}}
      }
    },
    {
      "data": {"values": [{}]},
      "mark": {"type": "point", "shape": "M-1,1L-1,-1L1,1Z", "size": 36, "filled": true, "color": "#9aa0b0", "opacity": 1, "strokeWidth": 0},
      "encoding": {
        "x": {"datum": 1.2, "type": "quantitative", "scale": {"domain": [-0.75, 655.75], "nice": false, "zero": false}},
        "y": {"datum": 1.5632, "type": "quantitative", "scale": {"domain": [1.56298, 1.60113], "nice": false, "zero": false}}
      }
    },
    {
      "data": {"values": [{}]},
      "mark": {"type": "text", "text": "520FX.com", "align": "left", "baseline": "middle", "color": "#ffffff", "font": "Liberation Sans", "fontSize": 15, "fontWeight": "bold", "stroke": "#4a4a4a", "strokeWidth": 0.7},
      "encoding": {
        "x": {"datum": 1, "type": "quantitative", "scale": {"domain": [-0.75, 655.75], "nice": false, "zero": false}},
        "y": {"datum": 1.56249, "type": "quantitative", "scale": {"domain": [1.56298, 1.60113], "nice": false, "zero": false}}
      }
    }
  ]
}
